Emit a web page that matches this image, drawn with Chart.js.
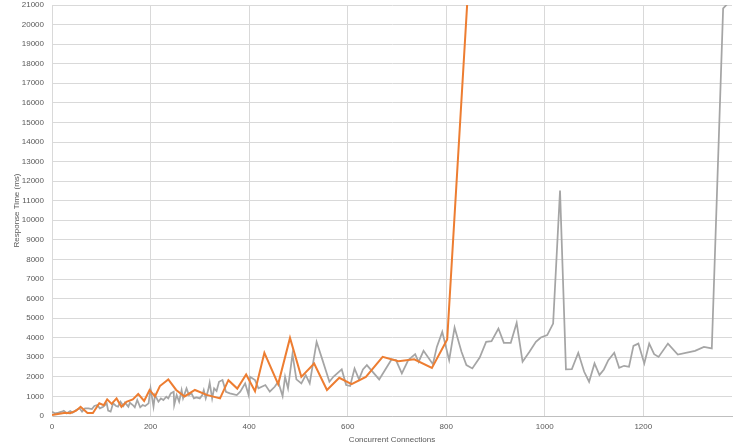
<!DOCTYPE html>
<html>
<head>
<meta charset="utf-8">
<script src="https://cdn.jsdelivr.net/npm/chart.js@4"></script>
<style>
  html, body { margin: 0; padding: 0; background: #fff; }
  #wrap { width: 750px; height: 444px; position: relative; }
</style>
</head>
<body>
<div id="wrap"><canvas id="myChart"></canvas></div>
<script>
// orange series (connections, response time ms)
const orangeX = [0, 12, 27, 37, 49, 58, 72, 83, 96, 105, 112, 121, 131, 141, 151, 164, 175, 187, 198, 209,
  219, 236, 252, 269, 290, 314, 341, 358, 376, 394, 412, 431, 459, 483, 506, 532, 558, 583, 608, 637,
  671, 703, 735, 771, 802, 846];
const orangeY = [50, 100, 170, 140, 270, 470, 150, 150, 650, 550, 850, 620, 900, 470, 720, 850, 1120, 770, 1330, 1000,
  1530, 1870, 1330, 1000, 1330, 1080, 900, 1830, 1400, 2120, 1270, 3230, 1630, 3990, 2000, 2680, 1330, 1950, 1630, 2000,
  3020, 2800, 2900, 2460, 3910, 22500];

// gray series
const grayX = [0, 6, 13, 20, 24, 30, 37, 42, 49, 56, 61, 67, 74, 81, 86, 92, 97, 104, 111, 114,
  119, 124, 130, 134, 139, 145, 148, 155, 158, 164, 168, 173, 179, 184, 189, 196, 200, 206, 209, 216,
  221, 226, 232, 236, 241, 247, 248, 253, 258, 263, 266, 273, 278, 283, 288, 293, 300, 305, 308, 312,
  317, 320, 325, 329, 334, 339, 346, 353, 361, 375, 382, 392, 399, 402, 412, 419, 433, 442, 452, 459,
  468, 473, 479, 488, 496, 506, 515, 523, 537, 549, 563, 571, 588, 597, 605, 614, 623, 631, 639, 664,
  689, 698, 710, 723, 737, 744, 754, 773, 781, 792, 806, 817, 831, 841, 853, 868, 881, 892, 906, 917,
  931, 943, 955, 969, 982, 992, 1005, 1017, 1031, 1043, 1055, 1068, 1080, 1090, 1101, 1111, 1120, 1129, 1141, 1151,
  1161, 1171, 1180, 1190, 1202, 1212, 1222, 1231, 1250, 1270, 1305, 1323, 1339, 1362, 1380];
const grayY = [221, 136, 170, 221, 272, 136, 255, 170, 306, 391, 221, 391, 391, 357, 510, 561, 391, 476, 646, 272,
  221, 646, 510, 476, 731, 510, 680, 476, 680, 561, 442, 816, 442, 561, 510, 646, 1410, 476, 1070, 731,
  900, 816, 985, 900, 1155, 1240, 561, 1070, 731, 1325, 900, 1410, 1070, 1155, 900, 951, 900, 1070, 1325, 900,
  1325, 1700, 900, 1410, 1274, 1750, 1835, 1240, 1155, 1070, 1240, 1665, 1070, 2005, 1835, 1410, 1580, 1240, 1495, 1750,
  1020, 2005, 1410, 3160, 1870, 1665, 2090, 1665, 3790, 2855, 1750, 2005, 2380, 1580, 1530, 2430, 1870, 2380, 2600, 1870,
  2890, 2855, 2175, 2855, 3160, 2770, 3330, 2650, 3530, 4300, 2855, 4520, 3280, 2600, 2430, 2990, 3790, 3820, 4470, 3740,
  3740, 4760, 2770, 3280, 3790, 4010, 4130, 4720, 11520, 2380, 2395, 3230, 2260, 1750, 2685, 2090, 2380, 2855, 3230, 2465,
  2565, 2515, 3585, 3700, 2685, 3700, 3160, 3020, 3700, 3140, 3330, 3530, 3450, 20830, 21300];

// axis ticks
const xTicks = [0, 200, 400, 600, 800, 1000, 1200];
const yTicks = [0, 1000, 2000, 3000, 4000, 5000, 6000, 7000, 8000, 9000, 10000,
  11000, 12000, 13000, 14000, 15000, 16000, 17000, 18000, 19000, 20000, 21000];

const xMax = 1380;
const yMax = 21000;
const tickFont = { family: "Liberation Sans", size: 8 };
const textColor = "#595959";
const gridColor = "#d9d9d9";

function toPoints(xs, ys) {
  let pts = [];
  for (let i = 0; i < xs.length; i++) {
    pts.push({ x: xs[i], y: ys[i] });
  }
  return pts;
}

const ctx = document.getElementById("myChart").getContext("2d");
const myChart = new Chart(ctx, {
  type: "scatter",
  data: {
    datasets: [
      {
        data: toPoints(orangeX, orangeY),
        showLine: true,
        borderColor: "#ED7D31",
        borderWidth: 2,
        pointRadius: 0,
        tension: 0,
      },
      {
        data: toPoints(grayX, grayY),
        showLine: true,
        borderColor: "#A5A5A5",
        borderWidth: 1.75,
        pointRadius: 0,
        tension: 0,
      },
    ],
  },
  options: {
    responsive: true,
    maintainAspectRatio: false,
    animation: false,
    layout: { padding: { top: 5, right: 18, left: 0, bottom: 0 } },
    plugins: {
      legend: { display: false },
      tooltip: { enabled: false },
    },
    scales: {
      x: {
        type: "linear",
        min: 0,
        max: xMax,
        afterBuildTicks: (s) => { s.ticks = xTicks.map((v) => ({ value: v })); },
        afterFit: (s) => {
          s.height = 28;
          s.paddingLeft = 0;
          s.paddingRight = 0;
        },
        ticks: {
          color: textColor,
          font: tickFont,
          padding: 6,
          maxRotation: 0,
          callback: (v) => String(v),
        },
        grid: { color: gridColor, drawTicks: false },
        border: { color: "#bfbfbf" },
        title: {
          display: true,
          text: "Concurrent Connections",
          color: textColor,
          font: tickFont,
          padding: { top: 0, bottom: -1 },
        },
      },
      y: {
        min: 0,
        max: yMax,
        afterBuildTicks: (s) => { s.ticks = yTicks.map((v) => ({ value: v })); },
        afterFit: (s) => {
          s.width = 52;
          s.paddingTop = 0;
          s.paddingBottom = 0;
        },
        ticks: {
          color: textColor,
          font: tickFont,
          padding: 8,
          callback: (v) => String(v),
        },
        grid: { color: gridColor, drawTicks: false },
        border: { color: gridColor },
        title: {
          display: true,
          text: "Response Time (ms)",
          color: textColor,
          font: tickFont,
          padding: { top: 12, bottom: 0 },
        },
      },
    },
  },
});
</script>
</body>
</html>
